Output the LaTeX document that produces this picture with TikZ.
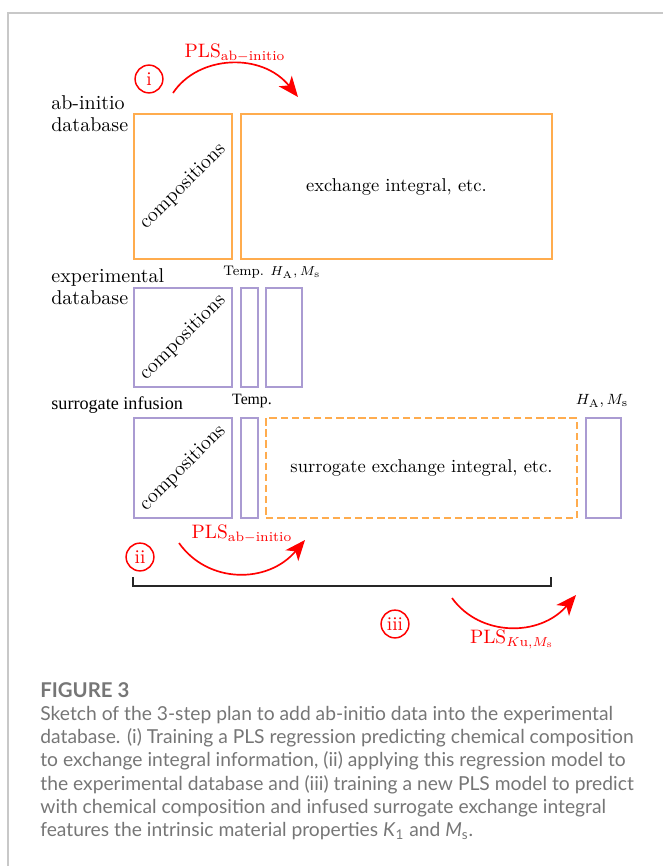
\documentclass[tikz,border=0pt]{standalone}
\usepackage[dvipsnames]{xcolor}
\usepackage{fontspec}
\newfontfamily\capfont{Lato}
\newfontfamily\altserif{Liberation Serif}
\usetikzlibrary{arrows.meta,positioning}
\definecolor{abcolor}{RGB}{255,172,78}
\definecolor{expcolor}{RGB}{170,155,210}
\definecolor{capgray}{RGB}{118,118,118}
\definecolor{framegray}{RGB}{200,200,200}
\newcommand{\px}{0.54pt}

\begin{document}
\begin{tikzpicture}[x=0.54pt,y=-0.54pt,>={Stealth[length=11pt,width=9pt,inset=3pt]},
    box/.style={draw,line width=1.1pt,inner sep=0pt,anchor=north west},
    abbox/.style={box,draw=abcolor},
    expbox/.style={box,draw=expcolor},
    dbtext/.style={align=left,anchor=west,inner sep=0pt,font=\fontsize{10.8}{11.8}\selectfont},
    comptext/.style={rotate=45,font=\fontsize{11}{13}\selectfont},
    headtext/.style={font=\fontsize{7.5}{8}\selectfont},
    stepmark/.style={circle,draw=red,text=red,line width=0.8pt,minimum size=15pt,inner sep=0pt,font=\fontsize{10.5}{12}\selectfont},
    plsarrow/.style={->,red,line width=0.9pt},
    plstext/.style={text=red,font=\fontsize{10.5}{12}\selectfont}]

    \useasboundingbox (0,0) rectangle (663,866);

    % frame
    \coordinate (ftr) at (663,13);
    \coordinate (ftl) at (8,13);
    \coordinate (fbl) at (8,866);
    \draw[framegray, line width=1.1pt] (ftr) -- (ftl) -- (fbl);

    % ab-initio database
    \node[dbtext] (abname) at (51,114) {ab-initio\\database};
    \node[abbox, minimum width=98*\px, minimum height=145*\px] (abcomp) at (133,113) {};
    \node[comptext] (abcomplabel) at (abcomp.center) {compositions};
    \node[abbox, minimum width=311*\px, minimum height=145*\px] (abexch) at (240,113) {exchange integral, etc.};

    % experimental database
    \node[dbtext] (expname) at (51,287) {experimental\\database};
    \node[expbox, minimum width=98*\px, minimum height=99*\px] (expcomp) at (133,287) {};
    \node[comptext] (expcomplabel) at (expcomp.center) {compositions};
    \node[expbox, minimum width=17*\px, minimum height=99*\px] (exptemp) at (240,287) {};
    \node[expbox, minimum width=36*\px, minimum height=99*\px] (expprop) at (265,287) {};
    \node[headtext, anchor=south west, inner sep=0pt] (exphead) at (223,279) {Temp. $H_\mathrm{A}, M_\mathrm{s}$};

    % surrogate infusion
    \node[anchor=west, inner sep=0pt, font=\altserif\fontsize{9.8}{11}\selectfont] (surname) at (51,405) {surrogate infusion};
    \node[expbox, minimum width=98*\px, minimum height=100*\px] (surcomp) at (133,417) {};
    \node[comptext] (surcomplabel) at (surcomp.center) {compositions};
    \node[expbox, minimum width=17*\px, minimum height=100*\px] (surtemp) at (240,417) {};
    \node[abbox, dash pattern=on 4pt off 2pt, minimum width=311*\px, minimum height=100*\px] (surexch) at (265,417) {surrogate exchange integral, etc.};
    \node[expbox, minimum width=35*\px, minimum height=100*\px] (surprop) at (585,417) {};
    \node[font=\altserif\fontsize{8.5}{9}\selectfont] (surtemphead) at (252,401) {Temp.};
    \node[font=\fontsize{8.5}{10}\selectfont] (surprophead) at (602,401) {$H_\mathrm{A}, M_\mathrm{s}$};

    % step (i)
    \node[stepmark] (stepi) at (149,79) {i};
    \coordinate (istart) at (173,93);
    \coordinate (iend) at (298,97);
    \draw[plsarrow] (istart) .. controls (198,55) and (262,52) .. (iend);
    \node[plstext] (plsi) at (235,53) {PLS$_\mathrm{ab-initio}$};

    % step (ii)
    \node[stepmark] (stepii) at (140,557) {ii};
    \coordinate (iistart) at (179,543);
    \coordinate (iiend) at (305,540);
    \draw[plsarrow] (iistart) .. controls (208,584) and (268,584) .. (iiend);
    \node[plstext] (plsii) at (242,534) {PLS$_\mathrm{ab-initio}$};

    % bracket
    \coordinate (bltop) at (133,577);
    \coordinate (bl) at (133,586);
    \coordinate (br) at (551,586);
    \coordinate (brtop) at (551,577);
    \draw[line width=1.1pt, black!85] (bltop) -- (bl) -- (br) -- (brtop);

    % step (iii)
    \node[stepmark] (stepiii) at (395,624) {iii};
    \coordinate (iiistart) at (452,598);
    \coordinate (iiiend) at (576,595);
    \draw[plsarrow] (iiistart) .. controls (480,637) and (540,637) .. (iiiend);
    \node[plstext] (plsiii) at (512,639) {PLS$_{K\mathrm{u},M_\mathrm{s}}$};

    % caption
    \node[anchor=west, inner sep=0pt, text=capgray, font=\capfont\bfseries\fontsize{11}{12}\selectfont] (figlabel) at (40,690) {FIGURE 3};
    \node[anchor=north west, inner sep=0pt, align=left, text=capgray, font=\capfont\fontsize{10.4}{12.5}\selectfont] (captext) at (40,706) {Sketch of the 3-step plan to add ab-initio data into the experimental\\
database. (i) Training a PLS regression predicting chemical composition\\
to exchange integral information, (ii) applying this regression model to\\
the experimental database and (iii) training a new PLS model to predict\\
with chemical composition and infused surrogate exchange integral\\
features the intrinsic material properties \textit{K}\textsubscript{1} and \textit{M}\textsubscript{s}.};
\end{tikzpicture}
\end{document}
